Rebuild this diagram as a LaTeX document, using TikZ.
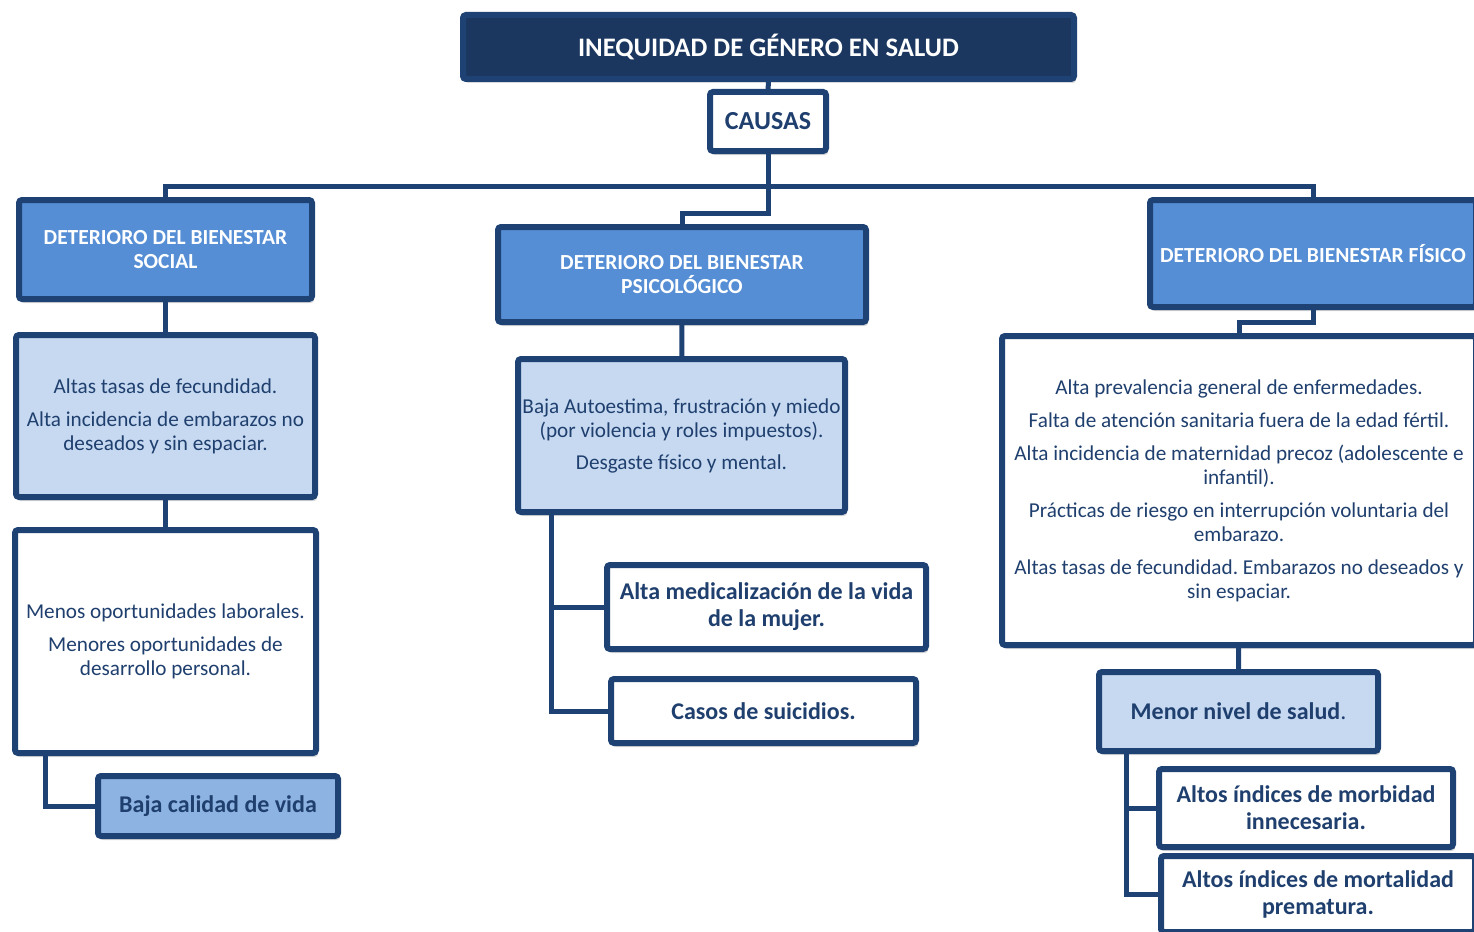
\documentclass[tikz,border=0pt]{standalone}
\usepackage{fontspec}
\setmainfont{Carlito}
\frenchspacing
\usetikzlibrary{shadows}
\definecolor{navy}{HTML}{1F4275}
\definecolor{deepnavy}{HTML}{1B3760}
\definecolor{ink}{HTML}{1F3F6E}
\definecolor{midblue}{HTML}{558ED5}
\definecolor{paleblue}{HTML}{C6D9F1}
\definecolor{softblue}{HTML}{8DB3E2}
\tikzset{
  panel/.style    = {shape=rectangle, rounded corners=3pt,
                     draw=navy, line width=6pt, align=center,
                     inner sep=2pt, text=ink,
                     drop shadow={opacity=0.3, shadow xshift=2pt, shadow yshift=-4pt}},
  toptitle/.style = {panel, fill=deepnavy, text=white, font=\bfseries\fontsize{26.7}{30}\selectfont},
  cause/.style    = {panel, fill=white, font=\bfseries\fontsize{26}{31}\selectfont},
  area/.style     = {panel, fill=midblue, text=white, font=\bfseries\fontsize{21.5}{23.5}\selectfont},
  lightbox/.style = {panel, fill=paleblue, font=\fontsize{21.2}{24}\selectfont},
  whitebox/.style = {panel, fill=white, font=\fontsize{21.2}{24}\selectfont},
  effect/.style   = {panel, fill=white, font=\bfseries\fontsize{24}{27}\selectfont},
  link/.style     = {draw=navy, line width=5pt}
}

\begin{document}
\begin{tikzpicture}
  [
    x = 1pt,
    y = -1pt
  ]
  \useasboundingbox (0,0) rectangle (1474,931);
  \node [toptitle, minimum width=611pt, minimum height=64pt] (title) at (768.5,47) {INEQUIDAD DE GÉNERO EN SALUD};
  \node [cause, minimum width=116pt, minimum height=59pt] (causas) at (768,121.5) {CAUSAS};

  \node [area, minimum width=293pt, minimum height=99pt] (social) at (165.5,249.5) {DETERIORO DEL BIENESTAR\\SOCIAL};
  \node [area, minimum width=368pt, minimum height=95pt] (psico) at (682,274.5) {DETERIORO DEL BIENESTAR\\PSICOLÓGICO};
  \node [area, minimum width=326pt, minimum height=107pt] (fisico) at (1313,253.5) {DETERIORO DEL BIENESTAR FÍSICO};

  \node [lightbox, minimum width=299pt, minimum height=162pt] (socialA) at (165.5,416)
    {Altas tasas de fecundidad.\\[9pt]Alta incidencia de embarazos no\\deseados y sin espaciar.};
  \node [whitebox, minimum width=301pt, minimum height=223pt] (socialB) at (165.5,641.5)
    {Menos oportunidades laborales.\\[9pt]Menores oportunidades de\\desarrollo personal.};
  \node [effect, fill=softblue, minimum width=240pt, minimum height=60pt] (baja) at (218,806) {Baja calidad de vida};

  \node [lightbox, minimum width=327pt, minimum height=153pt] (psicoA) at (681.5,435.5)
    {Baja Autoestima, frustración y miedo\\(por violencia y roles impuestos).\\[8pt]Desgaste físico y mental.};
  \node [effect, minimum width=319pt, minimum height=84pt] (medic) at (766.5,607) {Alta medicalización de la vida\\de la mujer.};
  \node [effect, minimum width=305pt, minimum height=64pt] (suicid) at (763.5,711) {Casos de suicidios.};

  \node [whitebox, minimum width=474pt, minimum height=309pt] (fisicoA) at (1239,490.5)
    {Alta prevalencia general de enfermedades.\\[9pt]Falta de atención sanitaria fuera de la edad fértil.\\[9pt]
     Alta incidencia de maternidad precoz (adolescente e\\infantil).\\[9pt]
     Prácticas de riesgo en interrupción voluntaria del\\embarazo.\\[9pt]
     Altas tasas de fecundidad. Embarazos no deseados y\\sin espaciar.};
  \node [effect, fill=paleblue, minimum width=279pt, minimum height=79pt] (menor) at (1238.5,711.5) {Menor nivel de salud\textmd{.}};
  \node [effect, minimum width=294pt, minimum height=78pt] (morb) at (1306,808) {Altos índices de morbidad\\innecesaria.};
  \node [effect, minimum width=314pt, minimum height=76pt] (mort) at (1318,894) {Altos índices de mortalidad\\prematura.};

  \coordinate (hub) at (768,186);
  \coordinate (psiturn) at (768,213);
  \coordinate (fisturn) at (1313,322);
  \draw [link] (title) -- (causas);
  \draw [link] (causas.south) -- (hub);
  \draw [link] (social.north) |- (hub) -| (fisico.north);
  \draw [link] (hub) -- (psiturn) -| (psico.north);
  \draw [link] (fisico.south) -- (fisturn) -| (fisicoA.north);
  \draw [link] (social) -- (socialA);
  \draw [link] (socialA) -- (socialB);
  \draw [link] ([xshift=-120pt]socialB.south) |- (baja.west);
  \draw [link] (psico) -- (psicoA);
  \draw [link] ([xshift=-130pt]psicoA.south) |- (medic.west);
  \draw [link] ([xshift=-130pt]psicoA.south) |- (suicid.west);
  \draw [link] (fisicoA) -- (menor);
  \draw [link] ([xshift=-112pt]menor.south) |- (morb.west);
  \draw [link] ([xshift=-112pt]menor.south) |- (mort.west);
\end{tikzpicture}
\end{document}
